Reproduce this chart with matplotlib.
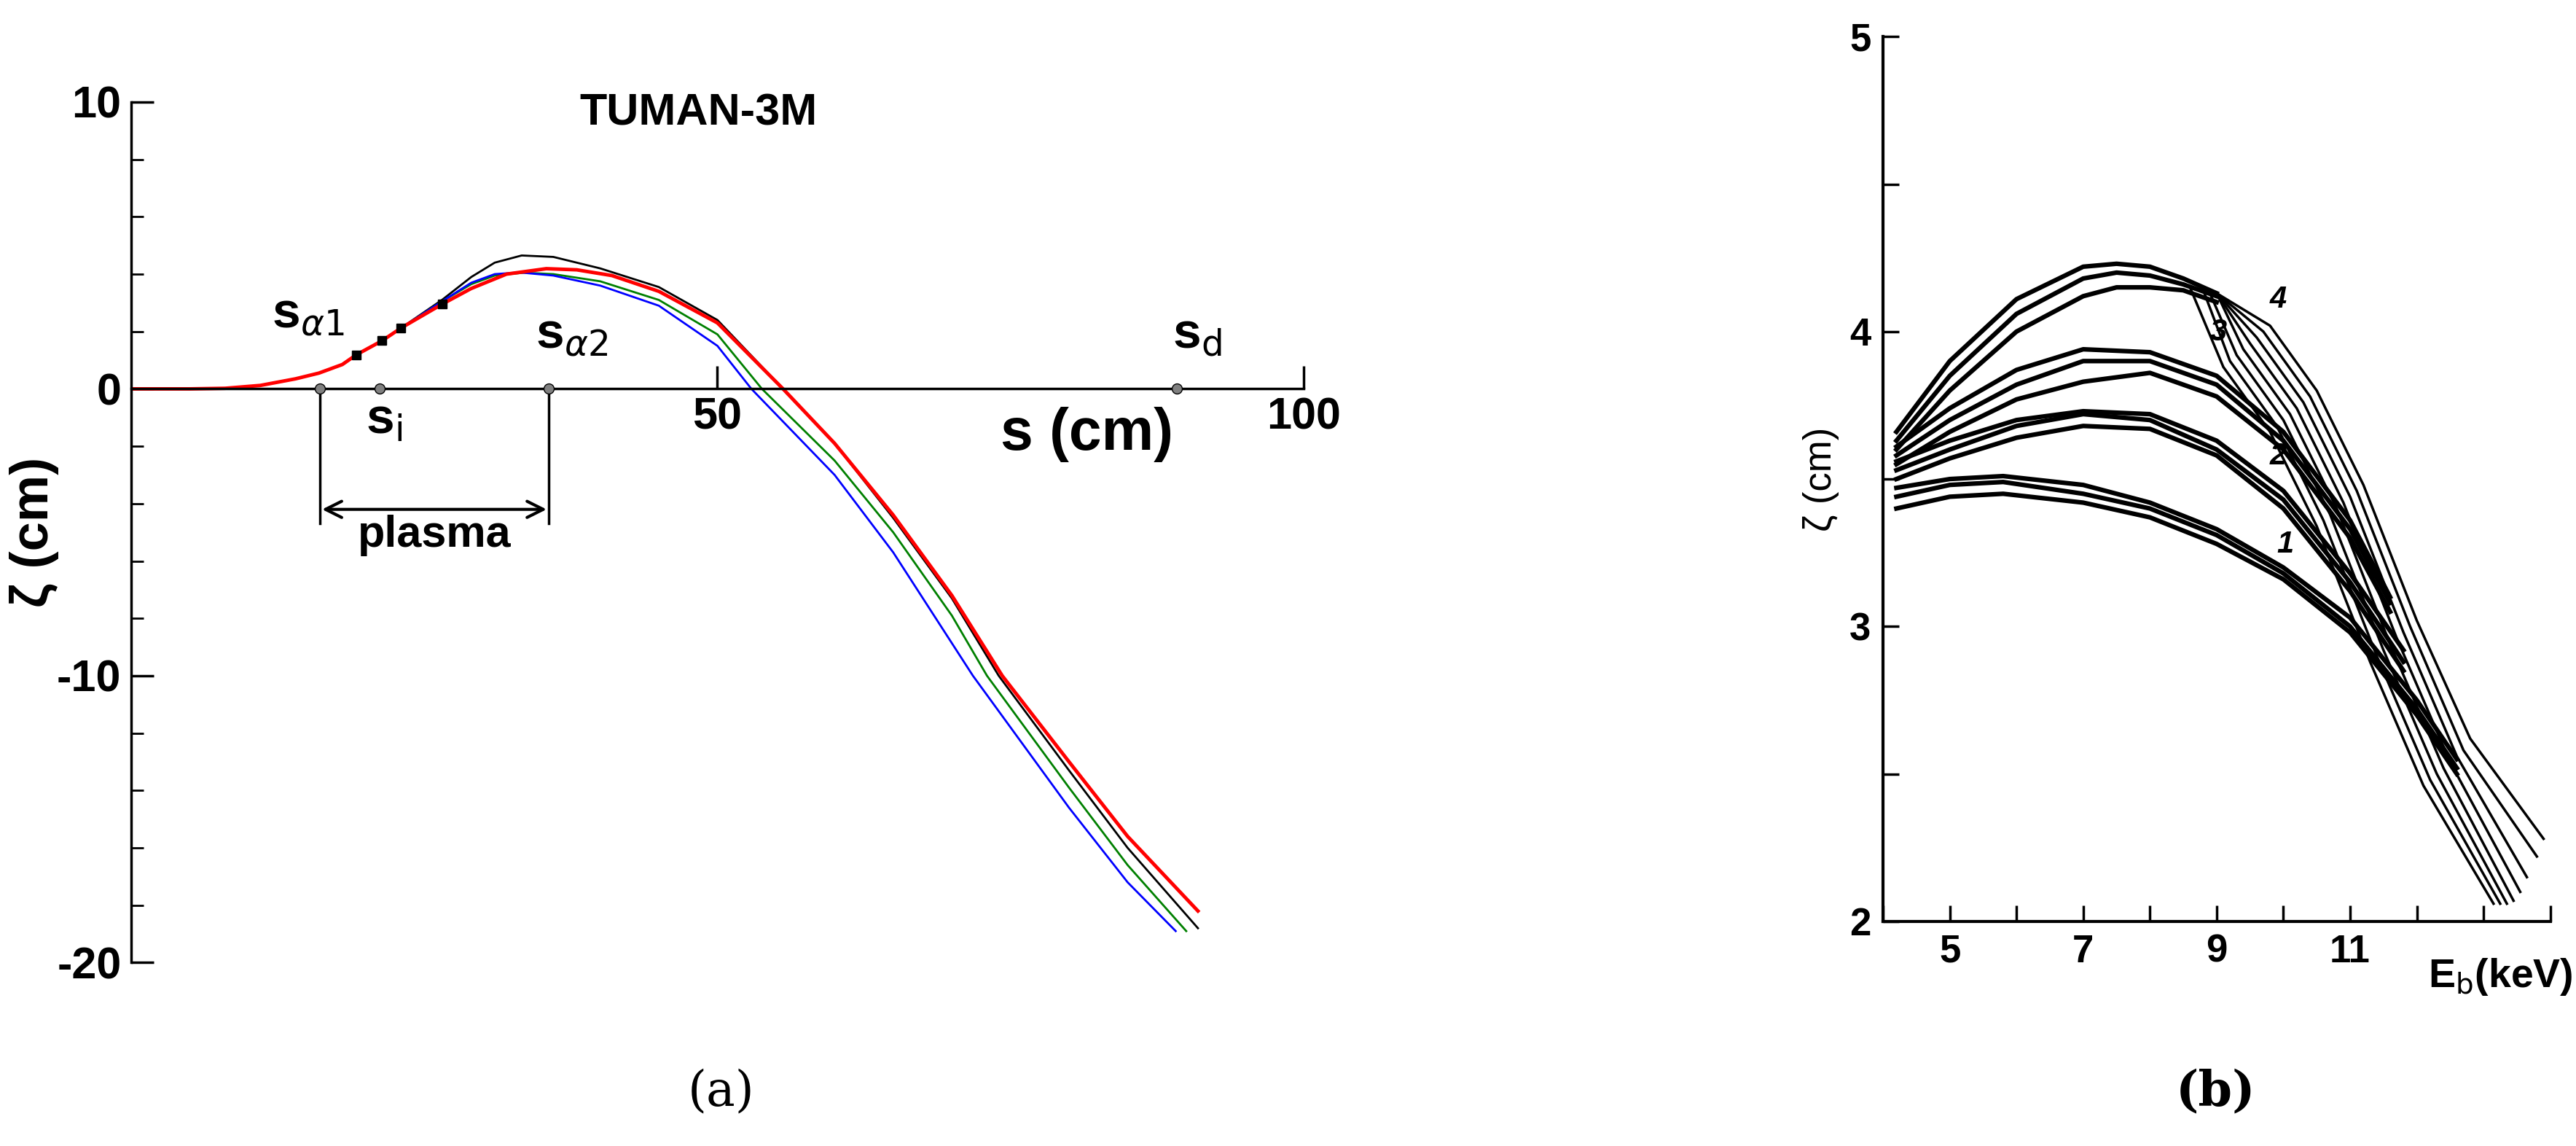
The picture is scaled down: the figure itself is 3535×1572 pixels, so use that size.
import matplotlib.pyplot as plt
from matplotlib.ticker import MultipleLocator

plt.rcParams['font.family'] = ['Liberation Sans', 'DejaVu Sans']
plt.rcParams['axes.unicode_minus'] = False

# ---- panel (a) data ----
s_head = [0, 5, 8, 11, 14, 16, 18, 19.2, 21.4, 23]
z_head = [0, 0, 0.02, 0.12, 0.35, 0.55, 0.85, 1.19, 1.68, 2.12]
s_red = s_head + [26.5, 29, 32, 35.4, 38, 41, 45, 50, 55.6, 60, 65, 70, 74.3, 80, 85, 91]
z_red = z_head + [2.95, 3.5, 4.0, 4.19, 4.15, 3.95, 3.4, 2.3, 0, -1.9, -4.4, -7.2, -10.0, -13.0, -15.6, -18.2]
s_blk = s_head + [26.5, 29, 31, 33.3, 36, 40, 45, 50, 55.6, 60, 65, 70, 74, 80, 85, 91]
z_blk = z_head + [3.1, 3.9, 4.4, 4.65, 4.6, 4.2, 3.55, 2.4, 0, -1.9, -4.5, -7.3, -10.0, -13.3, -16.0, -18.8]
s_grn = s_head + [26.5, 29, 31, 33.5, 36, 40, 45, 50, 53.8, 60, 65, 70, 73, 80, 85, 90]
z_grn = z_head + [3.05, 3.65, 3.95, 4.05, 4.0, 3.75, 3.1, 1.9, 0, -2.5, -5.0, -7.9, -10.0, -13.9, -16.6, -18.9]
s_blu = s_head + [26.5, 29, 31, 33.1, 36, 40, 45, 50, 52.9, 60, 65, 71.8, 80, 85, 89.1]
z_blu = z_head + [3.05, 3.7, 4.0, 4.06, 3.95, 3.6, 2.9, 1.5, 0, -3.0, -5.7, -10.0, -14.6, -17.2, -18.9]
sq_s = [19.2, 21.4, 23, 26.5]
sq_z = [1.19, 1.68, 2.12, 2.95]
pt_s = [16.1, 21.2, 35.6, 89.2]
pt_names = ['s$_{\\alpha1}$', 's$_\\mathrm{i}$', 's$_{\\alpha2}$', 's$_\\mathrm{d}$']

# ---- panel (b) data ----
e1 = [4.2, 5.0, 5.8, 7.0, 8.0, 9.0, 10.0, 11.0, 12.0, 12.6]
g1 = [[3.40, 3.44, 3.45, 3.42, 3.37, 3.28, 3.16, 2.98, 2.70, 2.50],
      [3.44, 3.48, 3.49, 3.45, 3.40, 3.31, 3.18, 3.00, 2.72, 2.52],
      [3.47, 3.50, 3.51, 3.48, 3.42, 3.33, 3.20, 3.03, 2.75, 2.55]]
e2 = [4.2, 5.0, 6.0, 7.0, 8.0, 9.0, 10.0, 11.0, 11.8]
g2 = [[3.50, 3.57, 3.64, 3.68, 3.67, 3.58, 3.40, 3.12, 2.85],
      [3.53, 3.60, 3.68, 3.72, 3.70, 3.60, 3.43, 3.15, 2.88],
      [3.56, 3.63, 3.70, 3.73, 3.72, 3.63, 3.46, 3.18, 2.92]]
e3 = [4.2, 5.0, 6.0, 7.0, 8.0, 9.0, 10.0, 11.0, 11.6]
g3 = [[3.55, 3.66, 3.77, 3.83, 3.86, 3.78, 3.60, 3.30, 3.05],
      [3.58, 3.70, 3.82, 3.90, 3.90, 3.82, 3.63, 3.33, 3.08],
      [3.61, 3.74, 3.87, 3.94, 3.93, 3.85, 3.66, 3.36, 3.10]]
e4 = [4.2, 5.0, 6.0, 7.0, 7.5, 8.0, 8.5, 9.0]
g4 = [[3.60, 3.80, 4.00, 4.12, 4.15, 4.15, 4.14, 4.10],
      [3.63, 3.85, 4.06, 4.18, 4.20, 4.19, 4.16, 4.12],
      [3.66, 3.90, 4.11, 4.22, 4.23, 4.22, 4.18, 4.13]]
# steep parallel family on the right (outermost line first)
tail_x = [[9.0, 9.8, 10.5, 11.2, 12.0, 12.8, 13.9],
          [9.0, 9.7, 10.4, 11.1, 11.9, 12.7, 13.8],
          [9.0, 9.6, 10.3, 11.0, 11.8, 12.6, 13.65],
          [9.0, 9.5, 10.2, 10.9, 11.7, 12.5, 13.55],
          [9.0, 9.4, 10.1, 10.8, 11.6, 12.4, 13.45],
          [8.9, 9.3, 10.0, 10.7, 11.5, 12.3, 13.35],
          [8.8, 9.2, 9.9, 10.6, 11.4, 12.2, 13.25],
          [8.6, 9.1, 9.8, 10.5, 11.3, 12.1, 13.15]]
tail_y = [[4.13, 4.02, 3.80, 3.48, 3.02, 2.62, 2.28],
          [4.13, 4.00, 3.78, 3.46, 3.00, 2.58, 2.22],
          [4.13, 3.98, 3.76, 3.44, 2.98, 2.56, 2.15],
          [4.13, 3.96, 3.74, 3.42, 2.96, 2.54, 2.10],
          [4.13, 3.94, 3.72, 3.40, 2.94, 2.52, 2.07],
          [4.13, 3.92, 3.70, 3.38, 2.92, 2.50, 2.06],
          [4.14, 3.90, 3.68, 3.36, 2.90, 2.48, 2.06],
          [4.15, 3.88, 3.66, 3.34, 2.88, 2.46, 2.06]]
curve_labels = ['1', '2', '3', '4']
label_pos = [(9.9, 3.25), (9.8, 3.55), (8.9, 3.97), (9.8, 4.08)]

fig = plt.figure(figsize=(35.35, 15.72), dpi=100)

# ---------------- (a) ----------------
ax = fig.add_axes([0.051, 0.16, 0.455, 0.751])
ax.plot(s_blk, z_blk, color='black', lw=2)
ax.plot(s_grn, z_grn, color='green', lw=2)
ax.plot(s_blu, z_blu, color='blue', lw=2)
ax.plot(s_red, z_red, color='red', lw=3.5)
ax.plot(sq_s, sq_z, 's', color='black', ms=9, ls='none', zorder=6)
ax.plot(pt_s, [0] * len(pt_s), 'o', mfc='gray', mec='black', ms=10, ls='none', zorder=5)
ax.set_xlim(0, 100)
ax.set_ylim(-20, 10)
ax.spines['bottom'].set_position(('data', 0))
ax.spines['top'].set_visible(False)
ax.spines['right'].set_visible(False)
for sp in ax.spines.values():
    sp.set_linewidth(2.5)
ax.set_xticks([50, 100])
ax.yaxis.set_major_locator(MultipleLocator(10))
ax.yaxis.set_minor_locator(MultipleLocator(2))
ax.tick_params(axis='y', which='major', direction='in', length=22, width=2.5, labelsize=44, pad=10)
ax.tick_params(axis='y', which='minor', direction='in', length=12, width=2)
ax.tick_params(axis='x', which='major', direction='in', length=22, width=2.5, labelsize=44, pad=8)
for lab in ax.get_xticklabels() + ax.get_yticklabels():
    lab.set_fontweight('bold')
ax.set_ylabel('ζ (cm)', fontsize=52, fontweight='bold')
ax.yaxis.set_label_coords(-0.062, 0.5)
ax.text(81.5, -1.6, 's (cm)', fontsize=58, fontweight='bold', ha='center', va='center')
ax.text(48.4, 9.6, 'TUMAN-3M', fontsize=44, fontweight='bold', ha='center', va='center')
ax.text(12.0, 2.6, pt_names[0], fontsize=50, fontweight='bold', va='center')
ax.text(20.0, -1.1, pt_names[1], fontsize=50, fontweight='bold', va='center')
ax.text(34.5, 1.9, pt_names[2], fontsize=50, fontweight='bold', va='center')
ax.text(88.8, 1.9, pt_names[3], fontsize=50, fontweight='bold', va='center')
ax.plot([pt_s[0], pt_s[0]], [0, -4.7], color='black', lw=2.5)
ax.plot([pt_s[2], pt_s[2]], [0, -4.7], color='black', lw=2.5)
ax.annotate('', xy=(pt_s[0], -4.2), xytext=(pt_s[2], -4.2),
            arrowprops=dict(arrowstyle='<->', lw=3, color='black', mutation_scale=40))
ax.text((pt_s[0] + pt_s[2]) / 2, -5.1, 'plasma', fontsize=44, fontweight='bold', ha='center', va='center')
fig.text(0.28, 0.035, '(a)', fontsize=48, ha='center', family='DejaVu Serif')

# ---------------- (b) ----------------
bx = fig.add_axes([0.731, 0.196, 0.259, 0.772])
for grp, ee in [(g1, e1), (g2, e2), (g3, e3), (g4, e4)]:
    for yy in grp:
        bx.plot(ee, yy, color='black', lw=4.5)
for xx, yy in zip(tail_x, tail_y):
    bx.plot(xx, yy, color='black', lw=2.5)
for t, (xp, yp) in zip(curve_labels, label_pos):
    bx.text(xp, yp, t, fontsize=30, style='italic', fontweight='bold')
bx.set_xlim(4, 14)
bx.set_ylim(2, 5)
bx.spines['top'].set_visible(False)
bx.spines['right'].set_visible(False)
for sp in bx.spines.values():
    sp.set_linewidth(3)
bx.set_xticks([5, 7, 9, 11])
bx.xaxis.set_minor_locator(MultipleLocator(1))
bx.set_yticks([2, 3, 4, 5])
bx.yaxis.set_minor_locator(MultipleLocator(0.5))
bx.tick_params(which='both', direction='in', width=2.5, labelsize=38)
bx.tick_params(which='major', length=16, pad=12)
bx.tick_params(which='minor', length=16)
for lab in bx.get_xticklabels() + bx.get_yticklabels():
    lab.set_fontweight('bold')
bx.set_ylabel('ζ (cm)', fontsize=38, labelpad=10)
bx.text(13.25, 1.88, 'E$_\\mathrm{b}$(keV)', fontsize=40, fontweight='bold', ha='center', va='top')
fig.text(0.86, 0.035, '(b)', fontsize=48, ha='center', family='DejaVu Serif', fontweight='bold')

fig.savefig('out.png', dpi=100)
